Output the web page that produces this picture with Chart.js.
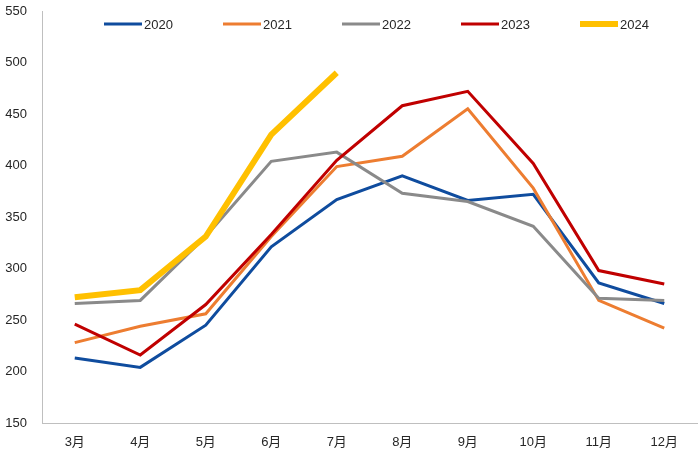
<!DOCTYPE html>
<html>
<head>
<meta charset="utf-8">
<script src="https://cdn.jsdelivr.net/npm/chart.js@4/dist/chart.umd.min.js"></script>
<style>
  body { margin: 0; background: #fff; }
</style>
</head>
<body>
<canvas id="chart" width="700" height="467"></canvas>
<script>
const months = ["3月", "4月", "5月", "6月", "7月", "8月", "9月", "10月", "11月", "12月"];

// values
const y2020 = [213, 204, 245, 321, 367, 390, 366, 372, 286, 266];
const y2021 = [228, 244, 256, 331, 399, 409, 455, 378, 269, 242];
const y2022 = [266, 269, 331, 404, 413, 373, 365, 341, 271, 269];
const y2023 = [246, 216, 265, 333, 405, 458, 472, 402, 298, 285];
const y2024 = [272, 279, 331, 430, 490, null, null, null, null, null];

const yTicks = [150, 200, 250, 300, 350, 400, 450, 500, 550];

const font = '"Liberation Sans", "Noto Sans CJK SC", sans-serif';

function line(label, values, color, width, order) {
    return {
        label: label,
        data: values,
        borderColor: color,
        backgroundColor: color,
        borderWidth: width,
        pointRadius: 0,
        tension: 0,
        spanGaps: false,
        order: order,
    };
}

// legend drawn over the top of the plot, like the original
const topLegend = {
    id: "topLegend",
    afterDatasetsDraw(chart) {
        const ctx = chart.ctx;
        ctx.save();
        ctx.font = "13px " + font;
        ctx.textBaseline = "middle";
        ctx.textAlign = "left";
        chart.data.datasets.forEach((ds, i) => {
            const x = 104 + i * 119;
            const y = 24;
            ctx.strokeStyle = ds.borderColor;
            ctx.lineWidth = ds.borderWidth;
            ctx.lineCap = "butt";
            ctx.beginPath();
            ctx.moveTo(x, y);
            ctx.lineTo(x + 38, y);
            ctx.stroke();
            ctx.fillStyle = "#262626";
            ctx.fillText(ds.label, x + 40, y + 1);
        });
        ctx.restore();
    },
};

const config = {
    type: "line",
    data: {
        labels: months,
        datasets: [
            line("2020", y2020, "#0f4c9e", 3, 5),
            line("2021", y2021, "#ed7d31", 3, 4),
            line("2022", y2022, "#8a8a8a", 3, 3),
            line("2023", y2023, "#c00000", 3, 2),
            line("2024", y2024, "#ffc000", 6, 1),
        ],
    },
    options: {
        responsive: false,
        animation: false,
        layout: { padding: { top: 11, right: 3, left: 0, bottom: 0 } },
        plugins: {
            legend: { display: false },
            tooltip: { enabled: false },
        },
        scales: {
            x: {
                offset: true,
                grid: { display: false, drawTicks: false },
                border: { color: "#bfbfbf", width: 1 },
                ticks: {
                    color: "#262626",
                    font: { family: font, size: 13 },
                    padding: 12,
                    maxRotation: 0,
                },
                afterFit(scale) { scale.height = 44; },
            },
            y: {
                min: yTicks[0],
                max: yTicks[yTicks.length - 1],
                grid: { display: false, drawTicks: false },
                border: { color: "#bfbfbf", width: 1 },
                ticks: {
                    stepSize: 50,
                    color: "#262626",
                    font: { family: font, size: 13 },
                    padding: 15,
                },
                afterFit(scale) {
                    scale.width = 42;
                    // tick padding otherwise pushes the plot top down
                    scale.paddingTop = 0;
                    scale.paddingBottom = 0;
                },
            },
        },
    },
    plugins: [topLegend],
};

const myChart = new Chart(document.getElementById("chart"), config);
</script>
</body>
</html>
